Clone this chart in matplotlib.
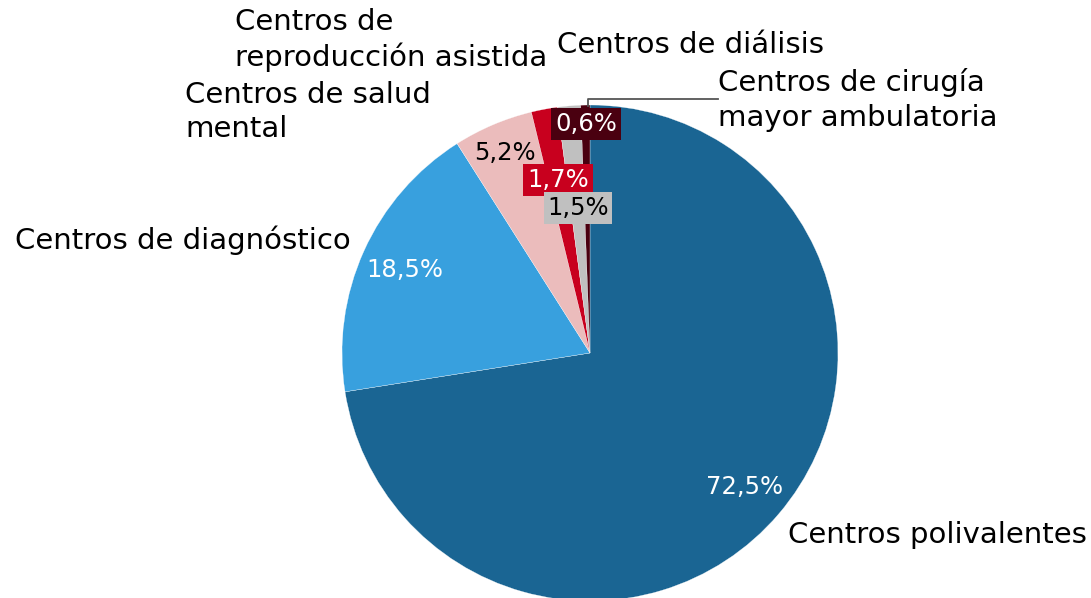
import matplotlib.pyplot as plt
from matplotlib.lines import Line2D

categories = [
    "Centros polivalentes",
    "Centros de diagnóstico",
    "Centros de salud\nmental",
    "Centros de\nreproducción asistida",
    "Centros de diálisis",
    "Centros de cirugía\nmayor ambulatoria",
]
values = [72.5, 18.5, 5.2, 1.7, 1.5, 0.6]
pct_labels = ["72,5%", "18,5%", "5,2%", "1,7%", "1,5%", "0,6%"]
colors = ["#1a6593", "#38a0de", "#ebbcbc", "#c8001e", "#c0c0c0", "#4a0010"]

W, H = 1091, 598


def px(x, y):
    return x / W, 1 - y / H


# layout (pixel positions of the texts)
cat_pos = [(788, 535), (15, 240), (185, 112), (235, 40), (557, 45), (718, 100)]
pct_pos = [(745, 487), (405, 270), (505, 153), (558, 180), (578, 208), (586, 124)]
pct_color = ["white", "white", "black", "white", "black", "white"]
pct_box = [None, None, None, "#c8001e", "#c0c0c0", "#4a0010"]

plt.rcParams["font.family"] = ["DejaVu Sans"]

fig = plt.figure(figsize=(W / 100, H / 100), dpi=100)
cx, cy, r = 590, 353, 248
ax = fig.add_axes([(cx - r) / W, 1 - (cy + r) / H, 2 * r / W, 2 * r / H])
ax.pie(values, colors=colors, startangle=90, counterclock=False, radius=1,
       wedgeprops=dict(edgecolor="white", linewidth=0.2))
ax.set_xlim(-1, 1)
ax.set_ylim(-1, 1)
ax.axis("off")

for label, (x, y) in zip(categories, cat_pos):
    fig.text(*px(x, y), label, ha="left", va="center", fontsize=21,
             color="black", linespacing=1.3)

for label, (x, y), c, box in zip(pct_labels, pct_pos, pct_color, pct_box):
    bbox = None
    if box:
        bbox = dict(boxstyle="square,pad=0.15", facecolor=box, edgecolor="none")
    fig.text(*px(x, y), label, ha="center", va="center", fontsize=17.5,
             color=c, bbox=bbox)

# leader line for the smallest slice
line = Line2D([588 / W, 588 / W, 718 / W],
              [1 - 106 / H, 1 - 99 / H, 1 - 99 / H],
              transform=fig.transFigure, color="#555555", linewidth=1.3)
fig.add_artist(line)

fig.savefig("out.png", dpi=100)
